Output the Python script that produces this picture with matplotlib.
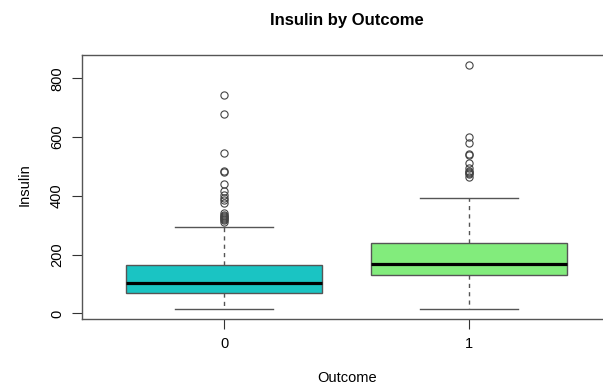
import matplotlib.pyplot as plt

plt.rcParams['font.family'] = ['Liberation Sans', 'DejaVu Sans']

# summary stats of Insulin per Outcome group
groups = ['0', '1']
q1 = [68, 129]
medians = [105, 169]
q3 = [163, 240]
whisker_low = [16, 15]
whisker_high = [295, 392]
outliers = [
    [744, 680, 545, 485, 480, 440, 415, 402, 392, 387, 376, 342, 335, 330, 328, 325, 321, 318, 310],
    [846, 600, 579, 543, 540, 510, 495, 485, 480, 478, 474, 465],
]
box_colors = ['#1ac4c3', '#82ec7c']

stats = []
for i in range(len(groups)):
    stats.append({'label': groups[i], 'q1': q1[i], 'med': medians[i], 'q3': q3[i],
                  'whislo': whisker_low[i], 'whishi': whisker_high[i], 'fliers': outliers[i]})

fig = plt.figure(figsize=(6.03, 3.85), dpi=100)
ax = fig.add_axes([82 / 603, 66 / 385, 529 / 603, 264 / 385])

bp = ax.bxp(stats, positions=[1, 2], widths=0.8, patch_artist=True, showfliers=True,
            boxprops=dict(edgecolor='#555555', linewidth=1.0),
            medianprops=dict(color='black', linewidth=2.3, solid_capstyle='butt'),
            whiskerprops=dict(color='#555555', linewidth=1.0, linestyle=(0, (3, 3))),
            capprops=dict(color='#555555', linewidth=1.0),
            capwidths=0.4,
            flierprops=dict(marker='o', markerfacecolor='none', markeredgecolor='#444444',
                            markersize=5.2, markeredgewidth=0.8))
for patch, c in zip(bp['boxes'], box_colors):
    patch.set_facecolor(c)

ax.set_xlim(0.42, 2.58)
ax.set_ylim(-19, 879)
ax.set_yticks([0, 200, 400, 600, 800])
ax.set_yticklabels(['0', '200', '400', '600', '800'], rotation=90, va='center')
ax.set_xticks([1, 2])
ax.set_xticklabels(groups)
ax.tick_params(axis='both', length=7, width=0.8, color='#333333', labelsize=10.5, pad=6)

for s in ax.spines.values():
    s.set_color('#555555')
    s.set_linewidth(1.0)

fig.text(347 / 603, 1 - 378 / 385, 'Outcome', ha='center', va='center', fontsize=10.5)
fig.text(25 / 603, 1 - 185 / 385, 'Insulin', ha='center', va='center', fontsize=10.5,
         rotation=90)
fig.text(347 / 603, 1 - 20 / 385, 'Insulin by Outcome', ha='center', va='center',
         fontsize=12, fontweight='bold')

fig.savefig('out.png', dpi=100)
